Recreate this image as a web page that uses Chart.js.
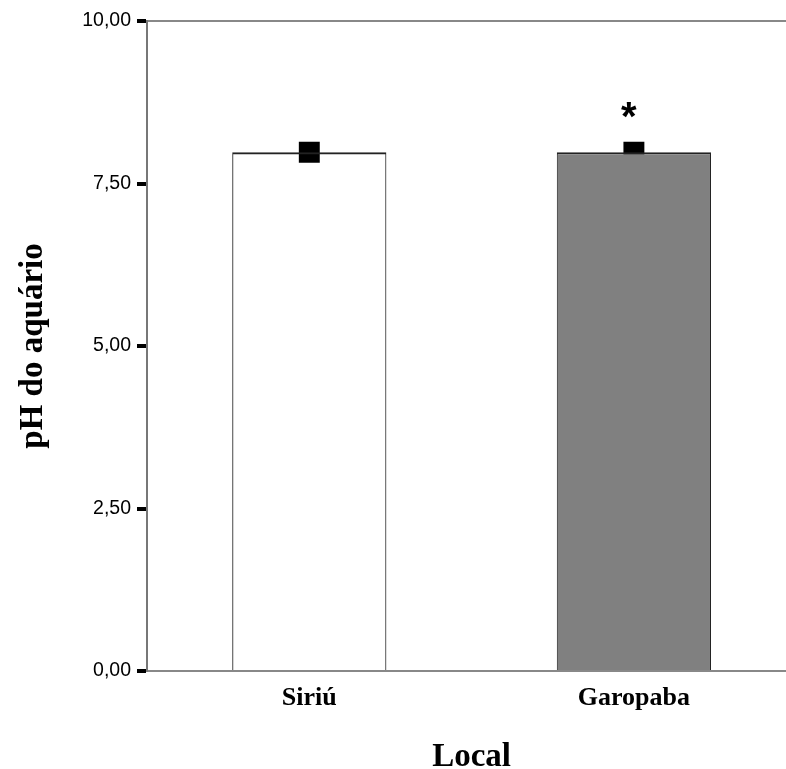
<!DOCTYPE html>
<html>
<head>
<meta charset="utf-8">
<script src="https://cdn.jsdelivr.net/npm/chart.js@4.4.1/dist/chart.umd.min.js"></script>
<style>
html,body{margin:0;padding:0;background:#fff;overflow:hidden;}
#wrap{width:811px;height:769px;}
</style>
</head>
<body>
<div id="wrap"><canvas id="c" width="811" height="769"></canvas></div>
<script>
const categories = ['Siriú', 'Garopaba'];
const meanValues = [7.98, 7.98];
const barFills = ['rgba(255,255,255,0)', '#808080'];
const significance = ['', '*'];
const significanceLevel = [8.33, 8.33];
const yTicks = [0, 2.5, 5, 7.5, 10];

const asteriskPlugin = {
  id: 'asterisk',
  afterDatasetsDraw(chart) {
    const {ctx, scales: {x, y}} = chart;
    ctx.save();
    ctx.fillStyle = '#000';
    ctx.font = 'bold 40px "Liberation Sans", Arial, sans-serif';
    ctx.textAlign = 'center';
    ctx.textBaseline = 'alphabetic';
    significance.forEach((s, i) => {
      if (!s) return;
      ctx.fillText(s, x.getPixelForValue(i) - 5, y.getPixelForValue(significanceLevel[i]));
    });
    ctx.restore();
  }
};

new Chart(document.getElementById('c'), {
  data: {
    labels: categories,
    datasets: [
      {
        type: 'bar',
        data: meanValues,
        backgroundColor: barFills,
        borderColor: '#222',
        borderWidth: {top: 2, left: 1, right: 1, bottom: 0},
        borderSkipped: false,
        barPercentage: 0.475,
        categoryPercentage: 1,
        order: 1
      },
      {
        type: 'line',
        data: meanValues,
        showLine: false,
        pointStyle: 'rect',
        pointRadius: 14.8,
        pointBackgroundColor: '#000',
        pointBorderColor: '#000',
        pointBorderWidth: 0,
        order: 2
      }
    ]
  },
  options: {
    responsive: false,
    animation: false,
    layout: {padding: {top: 21, right: 0, left: 0, bottom: 0}},
    plugins: {legend: {display: false}, tooltip: {enabled: false}},
    scales: {
      x: {
        type: 'category',
        offset: true,
        grid: {display: false, drawTicks: false},
        border: {display: true, color: '#888', width: 2},
        ticks: {
          color: '#000',
          padding: 12,
          font: {family: '"Liberation Serif", "Times New Roman", serif', size: 26, weight: 'bold'}
        },
        title: {
          display: true,
          text: 'Local',
          color: '#000',
          font: {family: '"Liberation Serif", "Times New Roman", serif', size: 33, weight: 'bold', lineHeight: 0.67},
          padding: {top: 0, bottom: 0}
        },
        afterFit(scale) { scale.height = 98; }
      },
      y: {
        type: 'linear',
        min: 0,
        max: 10,
        afterBuildTicks(scale) { scale.ticks = yTicks.map(v => ({value: v})); },
        grid: {
          drawOnChartArea: true,
          color: ctx => (ctx.tick && ctx.tick.value === 10) ? '#888' : 'rgba(0,0,0,0)',
          lineWidth: 2,
          drawTicks: true,
          tickLength: 10,
          tickWidth: 4,
          tickColor: '#000'
        },
        border: {display: true, color: '#777', width: 2},
        ticks: {
          color: '#000',
          padding: 6,
          font: {family: '"Liberation Sans", Arial, sans-serif', size: 19.5},
          callback: v => v.toFixed(2).replace('.', ',')
        },
        title: {
          display: true,
          text: 'pH do aquário',
          color: '#000',
          font: {family: '"Liberation Serif", "Times New Roman", serif', size: 33, weight: 'bold', lineHeight: 1.2},
          padding: {top: 14, bottom: 0}
        },
        afterFit(scale) { scale.width = 147; }
      }
    }
  },
  plugins: [asteriskPlugin]
});
</script>
</body>
</html>
